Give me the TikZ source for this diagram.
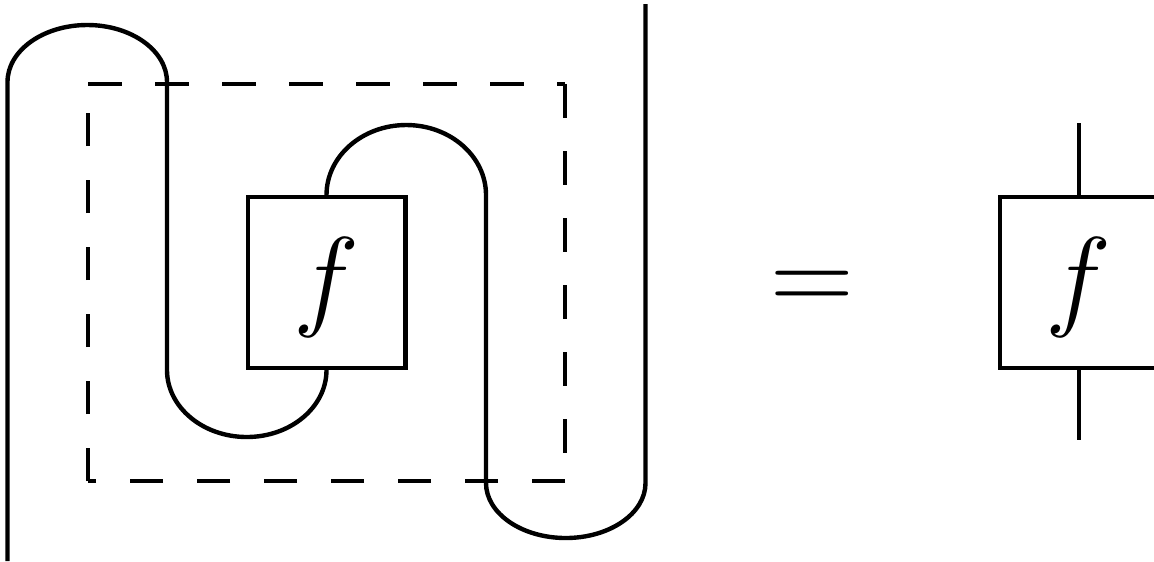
\documentclass[tikz,border=0pt]{standalone}
\usepackage{fix-cm}
\begin{document}
\begin{tikzpicture}[x=0.25pt,y=0.25pt,
  wire/.style={line width=1.1pt},
  fbox/.style={draw,line width=1.1pt,minimum width=39.4pt,minimum height=42.75pt,inner sep=0pt,text height=21.85pt,text depth=5.4pt,font=\fontsize{28}{34}\selectfont},
  dashside/.style={line width=1.1pt,dash pattern=on 8.375pt off 8.375pt},
  eqsign/.style={font=\fontsize{29}{35}\selectfont,inner sep=0pt,anchor=base}]
\clip (0,0) rectangle (1154,561);
\node[fbox] (f1) at (326.5,278.5) {$f$};
\node[fbox] (f2) at (1078.75,278.5) {$f$};
\node[eqsign] (eq) at (812.5,249) {$=$};
\coordinate (wA) at (7.5,0);
\coordinate (wB) at (645.5,557);
\coordinate (t2) at (1078.75,438);
\coordinate (b2) at (1078.75,121);
\coordinate (dBL) at (88,80);
\coordinate (dTL) at (88,477);
\coordinate (dTR) at (565,477);
\coordinate (dBR) at (565,80);
\draw[wire] (wA) -- (7.5,479) arc[start angle=180,end angle=0,x radius=19.9375pt,y radius=14.25pt]
  -- (167,191) arc[start angle=180,end angle=360,x radius=19.9375pt,y radius=16.75pt] -- (f1.south);
\draw[wire] (f1.north) -- (326.5,366) arc[start angle=180,end angle=0,x radius=19.9375pt,y radius=17.5pt]
  -- (486,78) arc[start angle=180,end angle=360,x radius=19.9375pt,y radius=13.75pt] -- (wB);
\draw[wire] (f2.north) -- (t2);
\draw[wire] (f2.south) -- (b2);
\draw[dashside] (dBL) -- (dTL);
\draw[dashside] (dTL) -- (dTR);
\draw[dashside] (dTR) -- (dBR);
\draw[dashside] (dBR) -- (dBL);
\end{tikzpicture}
\end{document}
